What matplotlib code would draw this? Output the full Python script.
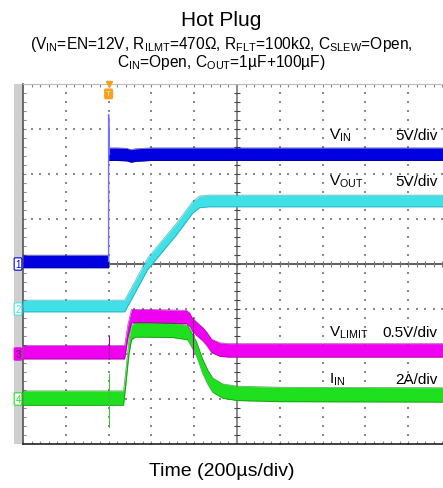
import matplotlib
matplotlib.use("Agg")
import numpy as np
from matplotlib import pyplot as plt
from matplotlib.patches import Rectangle

plt.rcParams['font.family'] = ['Liberation Sans', 'DejaVu Sans']
plt.rcParams['mathtext.fontset'] = 'custom'
plt.rcParams['mathtext.rm'] = 'Liberation Sans'
plt.rcParams['mathtext.it'] = 'Liberation Sans:italic'
plt.rcParams['mathtext.bf'] = 'Liberation Sans:bold'

# scope time base: 200 us/div, 10 div, trigger 2 div from the left
US_PER_DIV = 200
T_LEFT = -400
T_RIGHT = 1600

# channel 1: VIN (V)
vin_t = [-400, 0, 0, 40, 85, 105, 125, 200, 1600]
vin_v = [0.28, 0.28, 12.2, 12.2, 12.15, 12.0, 12.1, 12.2, 12.2]

# channel 2: VOUT (V)
vout_t = [-400, 75, 100, 182, 318, 393, 425, 470, 1600]
vout_v = [0.33, 0.33, 1.4, 5.0, 8.9, 11.3, 11.9, 12.0, 12.0]

# channel 3: VLIMIT (V)
vlimit_t = [-400, 75, 90, 107, 200, 364, 379, 390, 398, 416, 440, 458, 481, 519, 560, 1600]
vlimit_v = [0.02, 0.02, 0.25, 0.42, 0.42, 0.41, 0.38, 0.33, 0.31, 0.27, 0.22, 0.17, 0.09, 0.05, 0.04, 0.04]

# channel 4: IIN (A)
iin_t = [-400, 70, 80, 95, 107, 125, 300, 369, 390, 411, 439, 463, 486, 533, 600, 800, 1600]
iin_v = [0.04, 0.04, 0.9, 2.3, 2.95, 3.07, 3.05, 2.95, 2.6, 2.22, 1.47, 0.98, 0.62, 0.35, 0.25, 0.2, 0.18]

# glitches seen at the trigger instant and at the current-limit exit
vin_spike = [0.28, 16.6, 12.2]
vlimit_spikes = [(0, 0.2, -0.06), (393, 0.4, -0.03)]
iin_spike = (0, 1.11, -1.24)

channels = [
    # marker, times, values, ground div, units/div, band half-height, colour, edge
    ('1', vin_t, vin_v, 4, 5.0, 0.14, '#0000e0', '#00006e'),
    ('2', vout_t, vout_v, 3, 5.0, 0.13, '#40e0e8', '#1a8f96'),
    ('3', vlimit_t, vlimit_v, 2, 0.5, 0.15, '#f000f0', '#7a007a'),
    ('4', iin_t, iin_v, 1, 2.0, 0.16, '#1ee01e', '#0a700a'),
]


def to_div(values, ground, scale):
    return ground + np.asarray(values, dtype=float) / scale


fig = plt.figure(figsize=(4.43, 4.89), dpi=100)
ax = fig.add_axes([23 / 443, 44 / 489, 428 / 443, 360 / 489])
ax.set_xlim(T_LEFT, T_RIGHT)
ax.set_ylim(0, 8)
ax.set_xticks([])
ax.set_yticks([])

# graticule: dotted major lines made of dots every 1/5 div
grid_x = np.arange(T_LEFT, T_RIGHT + 1, US_PER_DIV)
grid_y = np.arange(0, 9, 1)
minor_x = np.arange(T_LEFT, T_RIGHT + 1, US_PER_DIV / 5)
minor_y = np.arange(0, 8.01, 0.2)
dots_x, dots_y = [], []
for gx in grid_x[1:]:
    if gx == 600:
        continue
    dots_x += [gx] * len(minor_y)
    dots_y += list(minor_y)
for gy in grid_y[1:-1]:
    if gy == 4:
        continue
    dots_x += list(minor_x)
    dots_y += [gy] * len(minor_x)
ax.scatter(dots_x, dots_y, s=1.3, marker='s', c='#8a8a8a', linewidths=0, zorder=1)

# centre cross with 1/5 div ticks
ax.axhline(4, color='#333333', lw=1.1, zorder=1.5)
ax.axvline(600, color='#8c8c8c', lw=1.4, zorder=1.5)
tick_x = 14
tick_y = 0.07
ax.vlines(minor_x, 4 - tick_y, 4 + tick_y, color='#777777', lw=0.8, zorder=1.5)
ax.hlines(minor_y, 600 - tick_x, 600 + tick_x, color='#444444', lw=0.8, zorder=1.5)
# ticks along the frame
ax.vlines(minor_x, 8 - tick_y, 8, color='#888888', lw=0.8, zorder=1.5)
ax.vlines(minor_x, 0, tick_y, color='#888888', lw=0.8, zorder=1.5)
ax.hlines(minor_y, T_LEFT, T_LEFT + tick_x, color='#888888', lw=0.8, zorder=1.5)

for side in ['top', 'right']:
    ax.spines[side].set_color('#bbbbbb')
    ax.spines[side].set_linewidth(0.8)
ax.spines['left'].set_color('#555555')
ax.spines['left'].set_linewidth(1.2)
ax.spines['bottom'].set_color('#222222')
ax.spines['bottom'].set_linewidth(1.2)

# grey strip holding the channel markers
ax.add_patch(Rectangle((-9 / 428, 0), 9 / 428, 1, transform=ax.transAxes,
                       facecolor='#cfcfcf', edgecolor='none', clip_on=False, zorder=0))

# traces drawn as noise bands
for name, t, v, ground, scale, band, color, edge in channels:
    y = to_div(v, ground, scale)
    ax.fill_between(t, y - band, y + band, color=color, lw=0, zorder=3)
    ax.plot(t, y - band, color=edge, lw=0.6, alpha=0.6, zorder=3.1)
    ax.plot(t, y + band, color=edge, lw=0.6, alpha=0.6, zorder=3.1)
    filled = name == '3'
    ax.text(-5 / 428, ground, name, transform=ax.get_yaxis_transform(),
            ha='center', va='center', fontsize=7,
            color='#5a005a' if filled else color,
            bbox=dict(boxstyle='round,pad=0.12', fc=color if filled else 'white',
                      ec=color, lw=0.8),
            clip_on=False, zorder=6)

ax.plot([0, 0, 4], to_div(vin_spike, 4, 5.0), color='#7070ff', lw=1.0, zorder=3.2)
for ts, hi, lo in vlimit_spikes:
    ax.plot([ts, ts], to_div([hi, lo], 2, 0.5), color='#a000a0', lw=0.8, zorder=3.2)
ax.plot([iin_spike[0]] * 2, to_div(iin_spike[1:], 1, 2.0), color='#40c040', lw=0.8, zorder=3.2)

# trigger marker
ax.plot([0], [8], marker='v', ms=5, color='#f5a020', clip_on=False, zorder=6)
ax.text(0, 7.78, 'T', ha='center', va='center', fontsize=6, color='#ffe8b0',
        bbox=dict(boxstyle='round,pad=0.15', fc='#f5a020', ec='#f5a020'), zorder=6)

# channel labels
labels = [
    (r'V$_{\mathrm{IN}}$', '5V/div', 6.87),
    (r'V$_{\mathrm{OUT}}$', '5V/div', 5.84),
    (r'V$_{\mathrm{LIMIT}}$', '0.5V/div', 2.49),
    (r'I$_{\mathrm{IN}}$', '2A/div', 1.44),
]
for name, per_div, ly in labels:
    ax.text(1028, ly, name, ha='left', va='center', fontsize=11, zorder=7)
    ax.text(1537, ly, per_div, ha='right', va='center', fontsize=11, zorder=7)

fig.text(0.5, 1 - 20 / 489, 'Hot Plug', ha='center', va='center', fontsize=15)
subtitle = (r'(V$_{\mathrm{IN}}$=EN=12V, R$_{\mathrm{ILMT}}$=470Ω, '
            r'R$_{\mathrm{FLT}}$=100kΩ, C$_{\mathrm{SLEW}}$=Open,' + '\n'
            + r'C$_{\mathrm{IN}}$=Open, C$_{\mathrm{OUT}}$=1µF+100µF)')
fig.text(0.5, 1 - 53.5 / 489, subtitle, ha='center', va='center',
         multialignment='center', fontsize=11.2, linespacing=1.0)
fig.text(0.5, 1 - 472 / 489, 'Time (200µs/div)', ha='center', va='center', fontsize=14)

fig.savefig('out.png', dpi=100)
